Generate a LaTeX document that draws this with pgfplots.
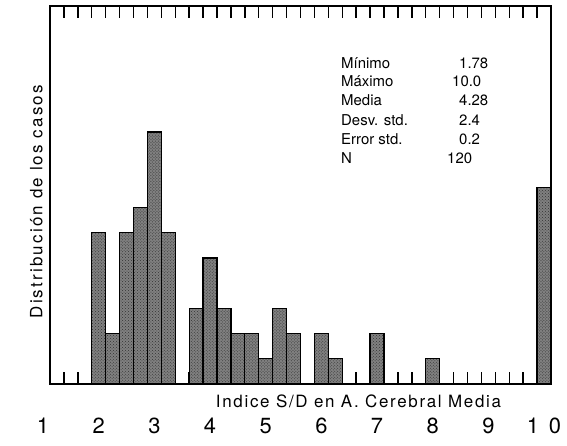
\documentclass[border=0pt]{standalone}
\usepackage{fontspec}
\setmainfont{TeX Gyre Heros}
\newfontfamily\spacedA[LetterSpace=13]{TeX Gyre Heros}
\newfontfamily\spacedB[LetterSpace=10]{TeX Gyre Heros}
\usepackage{pgfplots}
\pgfplotsset{compat=1.18}
\usetikzlibrary{patterns}
\begin{document}
\begin{tikzpicture}
\useasboundingbox (-50bp,-62bp) rectangle (517bp,384bp);
\begin{axis}[
  at={(0,0)}, anchor=origin,
  scale only axis, width=501bp, height=378bp,
  xmin=0, xmax=36, ymin=0, ymax=15,
  axis line style={line width=1.6bp},
  xtick={1,...,35}, xticklabels={},
  xtick pos=both, tick align=inside,
  major tick length=12bp,
  tick style={line width=1.4bp, black},
  ytick=\empty,
  extra x ticks={0,4,...,36},
  extra x tick labels={1,2,3,4,5,6,7,8,9,1\hspace{0.45em}0},
  extra x tick style={major tick length=0pt, xticklabel style={xshift=-6.96bp, anchor=base, yshift=-49.3bp, font=\fontsize{22}{24}\selectfont}},
  clip=false,
]
\addplot[ybar, bar width=1, bar shift=0, fill=black!50, draw=black, line width=1.3bp,
  postaction={pattern=crosshatch dots, pattern color=black!80}] coordinates {
  (3.5,6) (4.5,2) (5.5,6) (6.5,7) (7.5,10) (8.5,6)
  (10.5,3) (11.5,5) (12.5,3) (13.5,2) (14.5,2) (15.5,1) (16.5,3) (17.5,2)
  (19.5,2) (20.5,1) (23.5,2) (27.5,1) (35.5,7.8)
};
\end{axis}
\begin{scope}[every node/.style={anchor=base west, inner sep=0pt, font=\fontsize{15}{17}\selectfont}]
\node at (291bp,315.7bp) {Mínimo};
\node at (291bp,297.3bp) {Máximo};
\node at (291bp,278bp) {Media};
\node at (291bp,258.7bp) {Desv. std.};
\node at (291bp,239.7bp) {Error std.};
\node at (291bp,220.7bp) {N};
\node at (409bp,315.7bp) {1.78};
\node at (402bp,297.3bp) {10.0};
\node at (409bp,278bp) {4.28};
\node at (409bp,258.7bp) {2.4};
\node at (409bp,239.7bp) {0.2};
\node at (397bp,220.7bp) {120};
\end{scope}
\node[rotate=90, anchor=base, inner sep=0pt, font=\spacedA\fontsize{17}{20}\selectfont] at (-7.7bp,182.3bp) {Distribución de los casos};
\node[anchor=base, inner sep=0pt, font=\spacedB\fontsize{17}{20}\selectfont] at (308.5bp,-23.3bp) {Indice S/D en A. Cerebral Media};
\end{tikzpicture}
\end{document}
